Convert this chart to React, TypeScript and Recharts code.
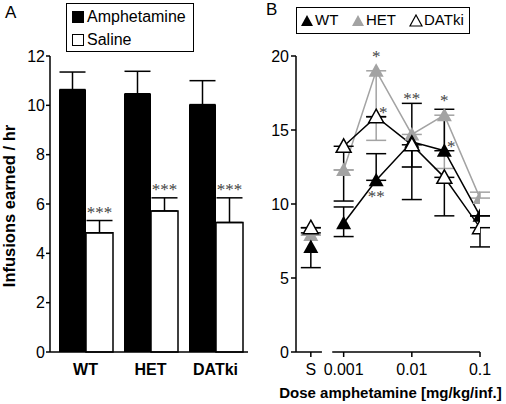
import React from 'react';
import {
  BarChart, Bar, XAxis, YAxis, ErrorBar, LabelList, ComposedChart, Line,
  ReferenceLine, Legend, Label,
} from 'recharts';

const FONT = '"Liberation Sans", Arial, Helvetica, sans-serif';
const SERIF = '"Liberation Serif", "Times New Roman", serif';

// ---------- Panel A data ----------
const genotypes = ['WT', 'HET', 'DATki'];
const amphetamineMean = [10.64, 10.47, 10.03];
const amphetamineSem = [0.71, 0.91, 0.97];
const salineMean = [4.83, 5.72, 5.25];
const salineSem = [0.5, 0.53, 1.0];
const salineSig = ['***', '***', '***'];
const yTicksA = [0, 2, 4, 6, 8, 10, 12];

// ---------- Panel B data ----------
const doseValues = [0.00033, 0.001, 0.003, 0.01, 0.03, 0.1]; // first = saline (S)
const doseTickValues = [0.00033, 0.001, 0.01, 0.1];
const doseTickLabels = ['S', '0.001', '0.01', '0.1'];
const yTicksB = [0, 5, 10, 15, 20];

const wtMean = [7.1, 8.7, 11.6, 14.2, 13.6, 9.2];
const wtErr = [[1.4, 0.95], [0.9, 1.1], [0, 1.8], [3.9, 2.6], [0, 2.8], [0, 0]];
const wtSig = ['', '', '**', '**', '*', ''];
const wtSigSide = ['', '', 'below', 'above', 'right', ''];

const hetMean = [7.9, 12.3, 19.0, 14.7, 16.0, 10.4];
const hetErr = [[0, 0], [0, 0], [4.7, 0], [2.2, 0], [3.6, 0], [0, 0.4]];
const hetSig = ['', '', '*', '', '*', ''];
const hetSigSide = ['', '', 'above', '', 'above', ''];

const datMean = [8.4, 13.9, 15.9, 14.0, 11.8, 8.4];
const datErr = [[0, 0], [3.7, 0], [0, 0], [1.5, 0], [2.6, 0], [1.3, 0]];
const datSig = ['', '', '*', '', '', ''];
const datSigSide = ['', '', 'right', '', '', ''];

const GRAY = '#a3a3a3';

const seriesB = [
  { key: 'het', name: 'HET', mean: hetMean, err: hetErr, sig: hetSig, side: hetSigSide, line: GRAY, fill: GRAY, stroke: 'none' },
  { key: 'wt', name: 'WT', mean: wtMean, err: wtErr, sig: wtSig, side: wtSigSide, line: '#000', fill: '#000', stroke: 'none' },
  { key: 'dat', name: 'DATki', mean: datMean, err: datErr, sig: datSig, side: datSigSide, line: '#000', fill: '#fff', stroke: '#000' },
];
const legendOrderB = ['WT', 'HET', 'DATki'];

const dataA = genotypes.map((g, i) => ({
  group: g,
  amph: amphetamineMean[i],
  amphErr: [0, amphetamineSem[i]],
  saline: salineMean[i],
  salineErr: [0, salineSem[i]],
  sig: salineSig[i],
}));

const rowsB = doseValues.map((d, i) => {
  const r: any = { dose: d };
  seriesB.forEach((s) => {
    r[s.key] = i === 0 ? null : s.mean[i];
    r[s.key + 'S'] = i === 0 ? s.mean[i] : null;
    r[s.key + 'Err'] = i === 0 ? null : s.err[i];
    r[s.key + 'SErr'] = i === 0 ? s.err[i] : null;
    r[s.key + 'Sig'] = s.sig[i];
    r[s.key + 'Star'] = s.sig[i]
      ? (s.side[i] === 'above' ? s.mean[i] + s.err[i][1] : s.mean[i])
      : null;
  });
  return r;
});

// ---------- helpers ----------
const triPath = (cx: number, cy: number, w = 7.5) =>
  `M${cx},${cy - 7.5}L${cx + w},${cy + 6}L${cx - w},${cy + 6}Z`;

const makeDot = (fill: string, stroke: string) => (props: any) => {
  const { cx, cy, index, value } = props;
  if (cx == null || cy == null || value == null || Number.isNaN(cy)) {
    return <g key={`e-${index}`} />;
  }
  return (
    <path key={`t-${index}`} d={triPath(cx, cy)} fill={fill}
      stroke={stroke} strokeWidth={stroke === 'none' ? 0 : 1.5} strokeLinejoin="miter" />
  );
};

const renderSalineSig = (props: any) => {
  const { x, y, width, height, index, value } = props;
  if (!value) return null;
  const px = Number(height) / salineMean[index];
  const top = Number(y) - salineSem[index] * px;
  return (
    <text x={Number(x) + Number(width) / 2} y={top - 3} textAnchor="middle"
      fontFamily={SERIF} fontSize={17} fill="#444">{value}</text>
  );
};

const makeStarLabel = (s: any) => (props: any) => {
  const { x, y, index, value } = props;
  if (!value || y == null) return null;
  const side = s.side[index];
  const errUp = s.err[index][1];
  let tx = Number(x);
  let ty = Number(y);
  if (side === 'above') ty = errUp > 0 ? ty + 1 : ty - 9;
  else if (side === 'below') ty = ty + 22;
  else if (side === 'right') { tx = tx + 7; ty = ty + 1; }
  return (
    <text x={tx} y={ty} textAnchor="middle" fontFamily={SERIF} fontSize={17} fill="#444">{value}</text>
  );
};

const renderYLabelA = (props: any) => {
  const vb = props.viewBox || { x: 0, y: 56, width: 50, height: 296 };
  const cx = vb.x + 9;
  const cy = vb.y + vb.height / 2 + 2;
  return (
    <text transform={`translate(${cx},${cy}) rotate(-90)`} textAnchor="middle" dy="0.35em"
      fontFamily={FONT} fontWeight="bold" fontSize={16.5} fill="#000">Infusions earned / hr</text>
  );
};

const renderXLabelB = (props: any) => {
  const vb = props.viewBox || { x: 46, y: 352, width: 184, height: 52 };
  return (
    <text x={vb.x + vb.width / 2 + 2.5} y={vb.y + 46} textAnchor="middle"
      fontFamily={FONT} fontWeight="bold" fontSize={15} fill="#000">Dose amphetamine [mg/kg/inf.]</text>
  );
};

const legendItemsA = [
  { name: 'Amphetamine', fill: '#000' },
  { name: 'Saline', fill: '#fff' },
];

const renderLegendA = () => (
  <div style={{ position: 'relative', width: 128, height: 49, boxSizing: 'border-box', border: '1.5px solid #000', background: '#fff', fontFamily: FONT, fontSize: 16, color: '#000' }}>
    {legendItemsA.map((it, i) => (
      <div key={it.name} style={{ position: 'absolute', left: 5, top: 3 + i * 23, height: 20, lineHeight: '20px', whiteSpace: 'nowrap', display: 'flex', alignItems: 'center' }}>
        <span style={{ display: 'inline-block', width: 12, height: 12, boxSizing: 'border-box', background: it.fill, border: '1px solid #000', marginRight: 3 }} />
        <span>{it.name}</span>
      </div>
    ))}
  </div>
);

const legendSlotsB = [{ tri: 3, text: 18 }, { tri: 54, text: 69 }, { tri: 112, text: 127 }];

const renderLegendB = () => (
  <div style={{ position: 'relative', width: 174, height: 27, boxSizing: 'border-box', border: '1.5px solid #000', background: '#fff', fontFamily: FONT, fontSize: 15, color: '#000', whiteSpace: 'nowrap', overflow: 'visible' }}>
    {legendOrderB.map((name, i) => {
      const s = seriesB.find((x) => x.name === name)!;
      const slot = legendSlotsB[i];
      return (
        <React.Fragment key={name}>
          <svg width={14} height={13} style={{ position: 'absolute', left: slot.tri, top: 6 }}>
            <path d="M7,1L13,12L1,12Z" fill={s.fill} stroke={s.stroke} strokeWidth={s.stroke === 'none' ? 0 : 1.2} />
          </svg>
          <span style={{ position: 'absolute', left: slot.text, top: 2, lineHeight: '20px', whiteSpace: 'nowrap' }}>{name}</span>
        </React.Fragment>
      );
    })}
  </div>
);

const axisStroke = { stroke: '#000', strokeWidth: 1.5 };
const tickStyle = { fill: '#000', fontSize: 16, fontFamily: FONT };

export default function App() {
  return (
    <div style={{ position: 'absolute', left: 0, top: 0, width: 506, height: 404, background: '#fff', fontFamily: FONT }}>
      <div style={{ position: 'absolute', left: 5, top: 3, fontSize: 17, lineHeight: '20px', color: '#000' }}>A</div>
      <div style={{ position: 'absolute', left: 266, top: 0, fontSize: 17, lineHeight: '20px', color: '#000' }}>B</div>

      <div style={{ position: 'absolute', left: 0, top: 0 }}>
        <BarChart width={250} height={404} data={dataA} margin={{ top: 56, right: 2, left: 0, bottom: 0 }} barGap={0} barSize={27}>
          <XAxis dataKey="group" height={52} tickLine={false} tickSize={0} tickMargin={12}
            axisLine={axisStroke} tick={{ ...tickStyle, fontWeight: 'bold' }} padding={{ left: 3, right: 0 }} />
          <YAxis width={50} domain={[0, 12]} ticks={yTicksA} interval={0} tickSize={4} tickMargin={1}
            axisLine={axisStroke} tickLine={axisStroke} tick={tickStyle}>
            <Label content={renderYLabelA} />
          </YAxis>
          <Legend layout="vertical" align="center" verticalAlign="middle" content={renderLegendA}
            wrapperStyle={{ position: 'absolute', left: 66, top: 3, width: 128, height: 49 }} />
          <Bar dataKey="amph" name="Amphetamine" fill="#000" isAnimationActive={false}>
            <ErrorBar dataKey="amphErr" width={13} stroke="#000" strokeWidth={1.5} isAnimationActive={false} />
          </Bar>
          <Bar dataKey="saline" name="Saline" fill="#fff" stroke="#000" strokeWidth={1.5} isAnimationActive={false}>
            <ErrorBar dataKey="salineErr" width={13} stroke="#000" strokeWidth={1.5} isAnimationActive={false} />
            <LabelList dataKey="sig" content={renderSalineSig} />
          </Bar>
        </BarChart>
      </div>

      <div style={{ position: 'absolute', left: 250, top: 0 }}>
        <ComposedChart width={256} height={404} data={rowsB} margin={{ top: 56, right: 26, left: 0, bottom: 0 }}>
          <XAxis dataKey="dose" type="number" scale="log" domain={[0.0002, 0.1]} allowDataOverflow
            ticks={doseTickValues} interval={0}
            tickFormatter={(v: number) => doseTickLabels[doseTickValues.indexOf(v)] ?? ''}
            axisLine={false} tickLine={axisStroke} tickSize={5} tickMargin={7} height={52} tick={tickStyle}>
            <Label content={renderXLabelB} />
          </XAxis>
          <YAxis width={46} domain={[0, 20]} ticks={yTicksB} interval={0} allowDataOverflow
            tickSize={5} tickMargin={2} axisLine={axisStroke} tickLine={axisStroke} tick={tickStyle} />
          <ReferenceLine segment={[{ x: 0.0002, y: 0 }, { x: 0.00048, y: 0 }]} stroke="#000" strokeWidth={1.5} ifOverflow="visible" />
          <ReferenceLine segment={[{ x: 0.00068, y: 0 }, { x: 0.1, y: 0 }]} stroke="#000" strokeWidth={1.5} ifOverflow="visible" />
          {seriesB.map((s) => (
            <Line key={s.key} dataKey={s.key} name={s.name} stroke={s.line} strokeWidth={1.5}
              dot={makeDot(s.fill, s.stroke)} activeDot={false} connectNulls={false} isAnimationActive={false}>
              <ErrorBar dataKey={s.key + 'Err'} direction="y" width={10} stroke={s.line} strokeWidth={1.5} isAnimationActive={false} />
            </Line>
          ))}
          {seriesB.map((s) => (
            <Line key={s.key + 'S'} dataKey={s.key + 'S'} name={s.name + ' S'} stroke="none" legendType="none"
              dot={makeDot(s.fill, s.stroke)} activeDot={false} isAnimationActive={false}>
              <ErrorBar dataKey={s.key + 'SErr'} direction="y" width={10} stroke={s.line} strokeWidth={1.5} isAnimationActive={false} />
            </Line>
          ))}
          {seriesB.map((s) => (
            <Line key={s.key + 'Star'} dataKey={s.key + 'Star'} stroke="none" legendType="none"
              dot={false} activeDot={false} isAnimationActive={false}>
              <LabelList dataKey={s.key + 'Sig'} content={makeStarLabel(s)} />
            </Line>
          ))}
          <Legend layout="vertical" align="center" verticalAlign="middle" content={renderLegendB}
            wrapperStyle={{ position: 'absolute', left: 46, top: 7, width: 174, height: 27 }} />
        </ComposedChart>
      </div>
    </div>
  );
}
